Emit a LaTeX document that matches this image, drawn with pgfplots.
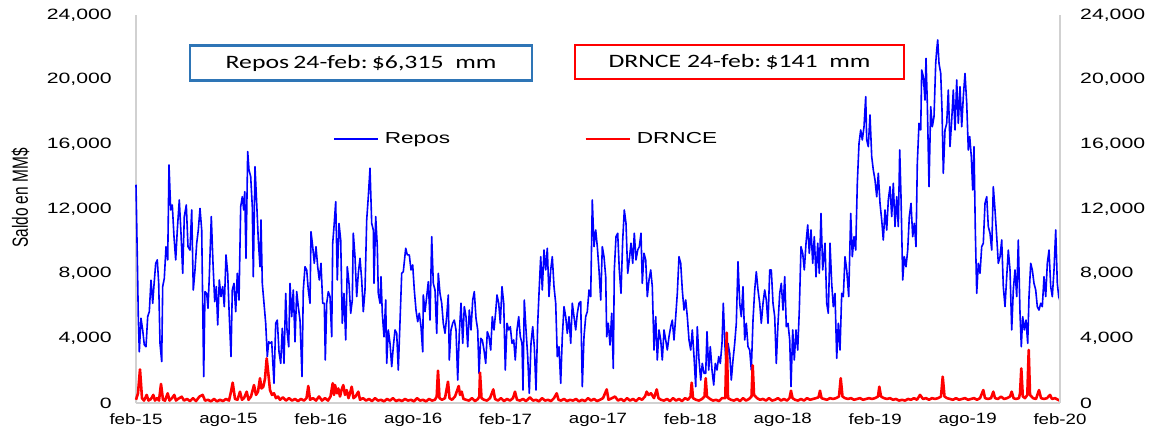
\documentclass[border=0pt]{standalone}
\usepackage{pgfplots}
\pgfplotsset{compat=1.18}
\usepackage{pgfplotstable}
\usepackage{graphicx}
\usepackage{fontspec}
\setmainfont{Liberation Sans}
\newfontfamily\calibrifont{Carlito}
\newcommand{\sx}[1]{\scalebox{1.42}[1]{#1}}
\newcommand{\sxx}[1]{\scalebox{1.25}[1]{#1}}
\definecolor{boxblue}{RGB}{46,117,182}

\pgfplotstableread{
px v
136 13500
137.3 9050
138.3 5340
139.3 3170
141 5240
142.7 4500
144.3 3600
146 3480
147.7 5340
149.3 5650
151 7600
152.7 6170
154 7300
155.7 8640
157.3 8850
158.7 7400
160 3690
161.7 2560
162.7 7200
164.3 7710
166 9670
167.7 8850
169 14720
170.7 11940
172.3 12250
174 10290
175.7 8850
177.3 10700
179.3 12560
181 10500
182.7 8020
184.3 11530
186.3 12250
188 9670
190 9460
191.7 11940
193.3 6990
195 8230
196.7 9880
198.3 10700
200 12040
201.7 10700
203.7 1630
205 6890
206.7 6780
208 5860
209.3 7810
211.3 11530
213 8640
214.7 6270
216.3 7200
217.7 4830
219.3 7610
221 6580
222.7 7200
224.3 5960
226 9160
227.7 8020
229.3 5340
231 2870
232.3 6990
234 7400
235.7 5650
237.3 8020
239 6370
240.7 12150
242.3 12760
243.7 11940
244.7 13070
246 8950
247.7 15550
249 14410
250.7 14000
252.3 12150
253.3 7810
255 14620
256.7 12350
258.3 10080
260 8430
261 11320
262.3 7400
264 6170
265.7 4930
267.3 2870
268.7 3790
270 3690
271.7 3790
272.7 2660
274 1220
275.7 4930
277.3 5130
279 3170
280.7 2450
282.3 4620
284 2450
285.7 6780
287 4520
288.7 3480
290 7400
291.7 5340
293.3 6990
295 3790
296.7 6890
298.3 5960
300 5130
302 1630
303.3 6990
305 8430
306.7 8230
308.3 6990
310 6170
311 10600
312.7 9670
314.3 8640
316 9670
317.7 8430
319.3 7610
321 8640
322.7 6170
324.3 6170
325.3 2660
326.7 6170
328.3 6890
330 6580
331.7 4100
332.7 9880
334 10910
335.7 12450
337.3 7610
339 11110
340.7 10080
342.3 4930
344 6780
345.7 3900
347.3 8430
349 7400
350.7 5550
352.3 6370
353.3 10500
355 9050
356.7 6580
358.3 8020
360 8950
361.7 7610
363.3 5650
365 6990
366.7 11320
368.3 12760
370 14520
371.7 11110
373.3 10700
374 7400
375.7 11530
377.3 9670
378.3 6780
380 6170
381 7810
382.3 5550
384 4100
385.7 6370
386.7 2450
388.3 4520
390 3690
391.7 2250
393.3 3480
395 4520
396.7 4310
398.3 2040
400 5030
401.7 8020
403.3 8120
405.7 9570
407.3 9160
409.3 9160
411 8230
412.7 8540
414.3 6990
416 5750
417.7 5030
419.3 5550
421 4720
422.7 3170
423.3 6680
425 5650
426.7 6580
428.3 7500
430 5130
431.7 10290
433.3 7400
435 6990
436.7 4310
438.3 8020
440 6780
441.7 6170
443.3 4930
445 4310
446.7 5340
448.3 6680
449.3 2660
451 4520
452.7 4930
454.3 5130
456 4520
457.7 1420
459.3 4310
461 6170
462.7 3690
464.3 5960
466 5340
467.7 3480
469.3 5750
471 4520
472.7 6370
474.3 6890
476 5240
477.7 4520
479 1840
480.7 4000
482.3 3900
484 3280
485.7 2450
487.3 4410
489 4100
490.7 3280
492.3 5340
494 4520
495.7 5650
497 6680
498.7 6170
500.3 4930
502 7200
503.7 6170
505.3 2040
507 4930
508.7 4520
510.3 4720
512 3690
513.7 3900
515.3 2660
517 4520
518.7 5340
520.3 4100
522 3690
523 800
524.3 6370
526 4520
527.7 2870
529.3 600
531 3690
532.7 4720
534.3 3480
536 800
537.7 4930
539.3 7200
540.7 9050
542.3 6990
544 9460
545.7 8230
547.3 9570
549 6580
550.7 8230
552.3 9050
554 7200
555.7 6170
557.3 2870
559 3480
560.7 1220
562.3 4100
564 5960
565.7 5340
567.3 4310
569 5340
570.7 3690
572.3 6170
574 5340
575.7 4520
577.3 5550
579 6170
580.7 6270
582.3 1010
584 4100
585.7 5340
587.3 5650
589 6990
590.7 6580
592.3 12560
594 9670
595.7 10700
597.3 9670
599 8230
600.7 6370
602.3 9670
604 9050
605.7 7810
606.7 4100
608.3 4930
610 3590
611.7 5550
613.3 2140
614.3 8230
616 10290
617.7 10500
619.3 8230
621 6780
622.7 10080
624.3 11940
626 11110
627.7 8020
629.3 8850
631 9880
632.7 8640
634.3 10500
636 8850
637.7 9460
639.3 9670
641 10500
642.3 7400
644 9260
645.7 8850
647.3 6580
649 7610
650.7 8230
652.3 7200
654 3280
655.7 5340
657.3 2660
659 4520
660.7 3900
662.3 2660
664 4520
665.7 3900
667.3 3280
669 4100
670.7 4720
672.3 5130
674 3900
675.7 5340
677.3 6780
679 9050
680.7 8640
682.3 6990
684 5750
685.7 6370
687.3 5340
689 3900
690.7 3280
692.3 4520
694 2870
695.7 1010
697.3 4720
699 2660
700.7 1420
702.3 2450
704 1840
705.7 1840
707 4410
708.7 2040
710.3 3480
712 2040
713.7 1110
715.3 2450
717 2040
718.7 2870
720.3 2450
722 3690
723.3 6170
725 3480
726.7 1840
728 3690
729.7 3070
731.3 1420
733 2660
734.7 3690
736.3 4930
738 8740
739.7 6170
741.3 5340
743 7200
744.7 3900
746.3 4930
748 3480
749.7 3280
751.3 2040
753 5130
754.7 6990
756.3 8120
758 6990
759.7 6170
761.3 4930
763 6170
764.7 6990
766.3 6370
768 4930
769.7 8230
771.3 8230
773 6170
774.7 5340
776.3 2450
778 4930
779.7 6780
781.3 7400
783 5750
784.7 7810
786.3 4720
788 4930
789.7 3900
791 1010
792.7 4520
794.3 2660
796 4520
797.7 3280
799.3 5750
801 9670
802.7 9260
804.3 8230
806 9880
807.7 11010
809.3 9260
811 10700
812.7 8640
814.3 10290
816 7810
817.7 9880
819.3 8020
821 11730
822.7 8230
825 9880
826.7 6170
828.3 5550
830 9880
831.7 7400
833.3 5960
835 6780
836.7 2760
838.3 4930
840 3280
841.7 6780
843.3 6580
845 9050
846.7 8230
848.7 6580
850.7 11730
852.3 9050
854 10290
855.7 9460
857.3 13590
859 16060
860.7 16890
862.3 16270
864 17090
865.7 18950
866.7 16270
868.3 15860
870 17820
871.7 15240
873.3 14410
875 13790
876.7 12760
878.3 14210
880 12350
881.7 11320
883.3 10080
885 11940
886.7 10700
888.3 12560
890 13380
891.7 11530
893.3 13590
895 10910
896.7 12760
898.3 10910
899.7 15650
901 12760
902.7 7610
904.3 9050
906 8430
907.7 9460
909.3 11530
911 12350
912.7 10290
914.3 11110
916 9670
917.3 14830
919 17300
920.7 16890
921.7 20600
923.3 20190
925 18740
926 21320
927.3 18540
929 13380
930.7 18330
932.3 17090
934 17710
935.7 21010
936.7 21840
937.7 22460
939 21010
940.7 20390
942 18130
943.3 14210
945 16890
946.7 17300
948.3 19360
950 15860
951.7 17510
953.3 19360
955 16890
956.7 19980
958.3 17300
960 19570
961.7 17090
963.3 18950
965 20390
966.7 18540
968.3 15650
969.7 16480
971.3 15240
972.7 13180
974 15860
975.3 10700
976.7 6780
978.3 8640
980 8020
981.7 9670
983.3 9880
985 12350
986.7 12760
988.3 10910
990 10500
991.7 9460
993.3 13380
995 11940
996.7 10290
998.3 8640
1000 9050
1001.7 10080
1003.3 7200
1005 5960
1006.7 7810
1008.3 9460
1010 8230
1011.7 4520
1013.3 6990
1015 8230
1016.7 6580
1018.3 10080
1020 5550
1021.3 3480
1022.7 5340
1024.3 4520
1026 5130
1027.7 3690
1029 6580
1030.7 8640
1032.3 8230
1034 7400
1035.7 6990
1037.3 5960
1039 5750
1040.7 6170
1042.3 5960
1044 7810
1045.7 6580
1047.3 8640
1049 9460
1050.7 7200
1052.3 6580
1054 8230
1055.7 10700
1057.3 7400
1058.7 6580
1060 6315
}\repos

\pgfplotstableread{
px v
136 200
138 600
140 2080
142 300
144 150
146.7 500
148.5 150
151 250
153.3 500
155 150
157 300
159 150
161 1180
163 200
165 150
167.7 600
169.5 150
172 300
174.3 500
176 150
178 250
181.7 390
184 150
187 250
190 120
193 300
196 120
199.5 400
202.7 500
205 150
208 200
211 100
214 250
217 100
220 200
223 120
226 250
229 150
231 700
232.7 1260
235 250
237.5 200
240 700
242 200
244 300
246.7 700
248.5 200
251 400
254 1110
256 500
258 700
260 1530
261.5 900
263.3 1010
265 1500
266.7 2760
268.3 1840
270 800
272 500
274 600
276 300
278 400
280 200
283 350
286 150
289 300
292 150
295 250
298 120
301 250
304 150
306.5 300
308.3 1050
310 200
313 300
316 150
319 400
322 150
325 300
328 150
330.5 400
332.7 1220
334 500
335 1110
337 600
338.3 900
340 400
341.5 800
343.3 1110
345 500
346.7 800
348.5 300
350 600
351.7 1010
353.5 300
355.5 400
358.3 700
360 200
363 300
366 150
369 250
372 120
375 300
378 150
381 200
384 100
387 250
390 150
393 300
396 120
399 200
402 120
405 250
408 150
411 200
414 100
417 300
420 150
423 200
426 100
429 250
432 150
435 200
436.7 400
438 2000
439.5 300
442 200
445 300
448 1320
449.5 300
452 200
455 400
458.7 1050
460 500
461.7 700
463.5 250
466 200
469 150
472 300
475 120
478 250
479.3 400
480 1880
481.5 300
484 200
487 150
490 300
493.3 840
495 250
498 150
501 300
504 120
507 250
510 150
513 300
515 700
517 200
520 150
523 250
526 120
530 350
533 150
536 200
539 100
542 300
545 150
548 200
551 120
554 300
556.7 600
558.5 200
561 150
564 250
567 120
570 200
573 150
576 250
579 100
582 200
585 120
588 300
591 150
594 250
597 120
600 200
603 300
606.7 840
608.5 200
612 300
615 400
618 150
621 250
624 120
627 300
630 150
633 250
636 120
639 300
642 200
645 400
646.7 700
648.5 500
651 600
654 300
656.7 840
658.5 300
661 200
664 150
667 250
670 120
673 300
676 150
679 250
682 120
685 300
688 200
690.5 400
691.7 1260
693 300
696 200
699 150
702 250
704.5 400
705.7 1530
707 400
710 250
713 150
716 200
719 120
722 300
725.3 300
726.7 4350
728 300
731 200
734 150
737 250
740 120
743 300
746 150
749 250
751.5 400
752.7 2330
754 500
757 300
760 200
763 250
766 150
769 300
772 150
775 200
778 300
781 150
784 250
787 150
789.5 300
791 760
792.5 300
795 200
798 150
801 250
804 150
807 300
810 200
813 250
816 300
818.5 350
820 760
821.5 300
824 250
827 200
830 300
833 250
836 300
839 400
840.7 1530
842.5 400
845 300
848 250
851 300
854 200
857 250
860 300
863 200
866 250
869 300
872 250
875 300
878 400
879.3 1010
881 400
884 300
887 250
890 300
893 200
896 250
899 150
902 200
905 150
908 250
911 200
914 300
917 200
920 500
923 250
926 300
929 200
932 300
935 250
938 300
941 400
942.7 1630
944.5 400
947 300
950 250
953 200
956 300
959 200
962 250
965 300
968 200
971 250
974 300
977 200
980 300
983.3 800
985 300
988 250
991 300
993.3 700
995 300
998 250
1001 400
1004 250
1007 300
1010 400
1011.7 700
1013.5 300
1016 250
1019 300
1020 600
1021.3 2140
1022.8 400
1025 300
1027.3 500
1028.7 3280
1030 500
1033 300
1036 250
1039 800
1041 300
1044 250
1047 300
1050 500
1052 250
1055 300
1058 200
1060 141
}\drnce

\begin{document}
\begin{tikzpicture}
\useasboundingbox (0,0) rectangle (1149bp,432bp);
\begin{axis}[
  at={(136bp,29bp)}, anchor=south west,
  width=924bp, height=388bp, scale only axis,
  xmin=136, xmax=1060, ymin=0, ymax=24000,
  axis x line*=bottom, axis y line*=left,
  axis line style={draw=black!18, line width=1.2bp},
  major tick length=0pt,
  xtick={136,228.4,320.8,413.2,505.6,598,690.4,782.8,875.2,967.6,1060},
  xticklabels={\sxx{feb-15},\sxx{ago-15},\sxx{feb-16},\sxx{ago-16},\sxx{feb-17},\sxx{ago-17},\sxx{feb-18},\sxx{ago-18},\sxx{feb-19},\sxx{ago-19},\sxx{feb-20}},
  ytick={0,4000,8000,12000,16000,20000,24000},
  scaled y ticks=false,
  /pgf/number format/.cd, 1000 sep={,}, assume math mode=true, /pgfplots/.cd,
  yticklabel={\sx{\pgfmathprintnumber{\tick}}},
  tick label style={font=\fontsize{15}{18}\selectfont},
  yticklabel style={inner sep=0pt, anchor=east, xshift=-24bp},
  xticklabel style={inner sep=0pt, anchor=north, yshift=-10bp},
  clip=false,
  legend style={at={(axis cs:333,16330)}, anchor=west, draw=none, fill=none,
    inner sep=0pt, font=\fontsize{16}{19}\selectfont, legend columns=2,
    /tikz/every even column/.append style={column sep=132bp},
    /tikz/every odd column/.append style={column sep=4bp}},
  legend image code/.code={\draw[#1] (0bp,0bp) -- (44bp,0bp);},
]
\addplot[draw={rgb,255:red,0;green,0;blue,255}, line width=1.6bp, line join=round] table[x=px,y=v] {\repos};
\addlegendentry{\sx{Repos}}
\addplot[draw={rgb,255:red,255;green,0;blue,0}, line width=2.6bp, line join=round] table[x=px,y=v] {\drnce};
\addlegendentry{\sx{DRNCE}}
\end{axis}
\begin{axis}[
  at={(136bp,29bp)}, anchor=south west,
  width=924bp, height=388bp, scale only axis,
  xmin=136, xmax=1060, ymin=0, ymax=24000,
  axis x line=none, axis y line*=right,
  axis line style={draw=black!18, line width=1.2bp},
  major tick length=0pt,
  ytick={0,4000,8000,12000,16000,20000,24000},
  scaled y ticks=false,
  /pgf/number format/.cd, 1000 sep={,}, assume math mode=true, /pgfplots/.cd,
  yticklabel={\sx{\pgfmathprintnumber{\tick}}},
  tick label style={font=\fontsize{15}{18}\selectfont},
  yticklabel style={inner sep=0pt, anchor=west, xshift=20bp},
]
\addplot[draw=none] coordinates {(136,0)};
\end{axis}
\node[font=\fontsize{15.5}{18}\selectfont] at (20.5bp,234bp) {\scalebox{1.42}[1]{\rotatebox{90}{Saldo en MM\$}}};
\node[draw=boxblue, line width=2.6bp, minimum width=342bp, minimum height=35bp, inner sep=0pt,
  font=\calibrifont\fontsize{19}{22}\selectfont] at (361bp,369bp)
  {\scalebox{1.36}[1]{Repos\,24-feb:\,\$6,315\ \ mm}};
\node[draw={rgb,255:red,255;green,0;blue,0}, line width=2.8bp, minimum width=329bp, minimum height=34bp, inner sep=0pt,
  font=\calibrifont\fontsize{19}{22}\selectfont] at (739.5bp,370bp)
  {\scalebox{1.36}[1]{DRNCE 24-feb:\,\$141\ \ mm}};
\end{tikzpicture}
\end{document}
